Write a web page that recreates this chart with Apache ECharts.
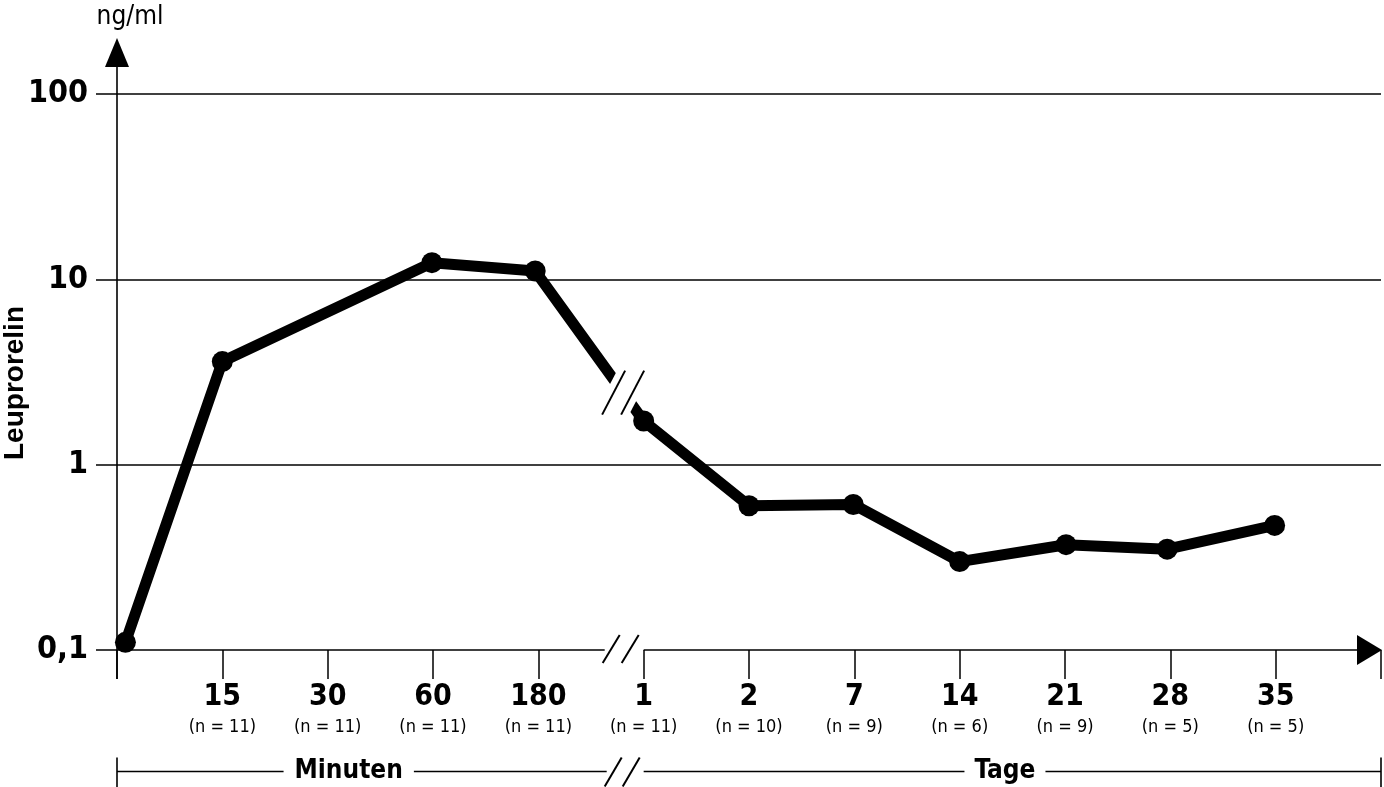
<!DOCTYPE html>
<html>
<head>
<meta charset="utf-8">
<script src="https://cdn.jsdelivr.net/npm/echarts@6/dist/echarts.min.js"></script>
<style>
html,body{margin:0;padding:0;background:#fff;}
#chart{width:1384px;height:787px;}
</style>
</head>
<body>
<div id="chart"></div>
<script>
// ---- data ----
const tickLabels = ['15', '30', '60', '180', '1', '2', '7', '14', '21', '28', '35'];
const nLabels = ['(n = 11)', '(n = 11)', '(n = 11)', '(n = 11)', '(n = 11)', '(n = 10)', '(n = 9)', '(n = 6)', '(n = 9)', '(n = 5)', '(n = 5)'];
const yTickLabels = { '0.1': '0,1', '1': '1', '10': '10', '100': '100' };
const pointX = [0.08, 1, 2.99, 3.97, 5, 6, 6.99, 8, 9.01, 9.97, 10.99];
const leuprorelin = [0.11, 3.6, 12.3, 11.1, 1.72, 0.6, 0.61, 0.3, 0.37, 0.35, 0.47];
const yUnit = 'ng/ml';
const yName = 'Leuprorelin';
const groupMinutes = 'Minuten';
const groupDays = 'Tage';

const NARROW = '"Liberation Sans Narrow", "DejaVu Sans Condensed", "Arial Narrow", sans-serif';
const SANS = '"Liberation Sans", Arial, Helvetica, sans-serif';

const chart = echarts.init(document.getElementById('chart'), null, { renderer: 'canvas' });

const option = {
  animation: false,
  backgroundColor: '#fff',
  grid: { left: 117, right: 3, top: 94, bottom: 137 },
  xAxis: {
    type: 'value', min: 0, max: 12, interval: 1,
    axisLine: { show: false },
    splitLine: { show: false },
    axisTick: { show: true, length: 29, lineStyle: { color: '#000', width: 1.5 } },
    axisLabel: {
      margin: 31,
      color: '#000',
      formatter: function (v) {
        if (v >= 1 && v <= 11) return '{a|' + tickLabels[v - 1] + '}\n{b|' + nLabels[v - 1] + '}';
        return '';
      },
      rich: {
        a: { fontSize: 30, fontWeight: 'bold', fontFamily: NARROW, lineHeight: 33, color: '#000' },
        b: { fontSize: 18, fontFamily: NARROW, lineHeight: 26, color: '#000' }
      }
    }
  },
  yAxis: {
    type: 'log', logBase: 10, min: 0.1, max: 100,
    axisLine: { show: false },
    axisTick: { show: true, length: 21, lineStyle: { color: '#000', width: 1.5 } },
    splitLine: { show: true, showMinLine: false, lineStyle: { color: '#000', width: 1.5 } },
    minorTick: { show: false },
    axisLabel: {
      margin: 29, color: '#000', fontSize: 32, fontWeight: 'bold', fontFamily: NARROW,
      formatter: function (v) {
        const k = String(Math.round(v * 10) / 10);
        return yTickLabels[k] !== undefined ? yTickLabels[k] : '';
      }
    }
  },
  series: [{
    type: 'line',
    data: pointX.map((x, i) => [x, leuprorelin[i]]),
    symbol: 'circle', symbolSize: 21,
    clip: false,
    lineStyle: { color: '#000', width: 11, join: 'round' },
    itemStyle: { color: '#000' },
    z: 5
  }]
};
chart.setOption(option);

// ---- axes, breaks and annotations ----
function px(x, y) { return chart.convertToPixel({ gridIndex: 0 }, [x, y]); }
const o = px(0, 0.1);
const x0 = o[0], y0 = o[1];
const xEnd = px(12, 0.1)[0];
const xDay1 = px(5, 0.1)[0];
const unit = px(1, 0.1)[0] - x0;
const LW = 1.6;
const els = [];
function line(x1, y1, x2, y2, w) {
  els.push({ type: 'line', z: 100, shape: { x1: x1, y1: y1, x2: x2, y2: y2 }, style: { stroke: '#000', lineWidth: w || LW } });
}
function poly(points, fill) {
  els.push({ type: 'polygon', z: 100, shape: { points: points }, style: { fill: fill || '#000', stroke: null } });
}
// y axis with arrow
line(x0, y0 + 29, x0, 67);
poly([[x0 - 12, 67], [x0 + 12, 67], [x0, 38]]);
// x axis with break and arrow
const brk = x0 + 4.63 * unit; // left end of the axis break
line(x0, y0, brk, y0);
line(xDay1, y0, xEnd - 22, y0);
poly([[xEnd - 24, y0 - 15], [xEnd - 24, y0 + 15], [xEnd + 1, y0]]);
line(brk - 2, y0 + 13, brk + 15, y0 - 15, 2);
line(brk + 17, y0 + 13, brk + 34, y0 - 15, 2);
// break in the data line
const pA = px(pointX[3], leuprorelin[3]);
const pB = px(pointX[4], leuprorelin[4]);
const cx = x0 + 4.805 * unit;
const t = (cx - pA[0]) / (pB[0] - pA[0]);
const cy = pA[1] + t * (pB[1] - pA[1]);
const dx = 11.5, dy = 22; // half slash vector (up-right)
const s1 = cx - 9.5, s2 = cx + 9.5;
poly([[s1 - 8 - dx, cy + dy], [s1 - 8 + dx, cy - dy], [s2 + 8 + dx, cy - dy], [s2 + 8 - dx, cy + dy]], '#fff');
line(s1 - dx, cy + dy, s1 + dx, cy - dy, 2);
line(s2 - dx, cy + dy, s2 + dx, cy - dy, 2);
// bottom bracket
const yb = 771.5;
line(x0, yb, brk + 2, yb);
line(xDay1, yb, xEnd, yb);
line(x0, yb - 14, x0, yb + 16);
line(xEnd, yb - 14, xEnd, yb + 16);
line(brk, yb + 15, brk + 17, yb - 14, 2);
line(brk + 18, yb + 15, brk + 35, yb - 14, 2);
els.push({ type: 'text', z: 110, x: x0 + 2.2 * unit, y: yb, style: { text: groupMinutes, font: 'bold 26px ' + NARROW, fill: '#000', align: 'center', verticalAlign: 'middle', backgroundColor: '#fff', padding: [0, 11] } });
els.push({ type: 'text', z: 110, x: x0 + 8.43 * unit, y: yb, style: { text: groupDays, font: 'bold 26px ' + NARROW, fill: '#000', align: 'center', verticalAlign: 'middle', backgroundColor: '#fff', padding: [0, 10] } });
// titles
els.push({ type: 'text', z: 110, x: 130, y: 17, style: { text: yUnit, font: '26px ' + NARROW, fill: '#000', align: 'center', verticalAlign: 'middle' } });
els.push({ type: 'text', z: 110, x: 15, y: 383, rotation: Math.PI / 2, style: { text: yName, font: 'bold 28px ' + SANS, fill: '#000', align: 'center', verticalAlign: 'middle' } });

chart.setOption({ graphic: { elements: els } });
</script>
</body>
</html>
